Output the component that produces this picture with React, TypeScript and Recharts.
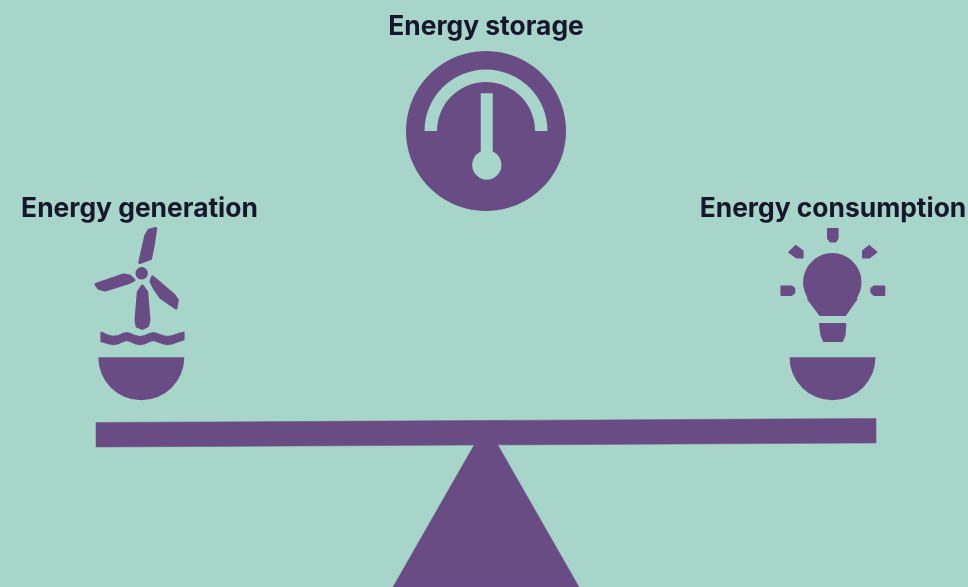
import { Pie, PieChart, Scatter, ScatterChart, XAxis, YAxis } from "recharts";

const WIDTH = 968;
const HEIGHT = 587;
const BACKGROUND = "#a7d5ca";
const PURPLE = "#6a4c85";
const INK = "#17172b";

// Outlines are [x, y] in a 968 x 587 data space.
const beam = [[96, 422.5], [876, 418.5], [876, 443], [96, 447]];
const fulcrum = [[393, 587], [477, 440], [495, 440], [579, 587]];
const needle = [[481, 93.5], [492.5, 93.5], [492.5, 160], [481, 160]];

const bladeTop = [[139.7, 262.5], [145.8, 235.5], [149, 230.3], [155.7, 228.5], [153, 246.5], [150.5, 258.5]];
const bladeLeft = [[96, 284.5], [123.5, 275], [129.7, 276], [134, 280], [129.7, 282.3], [105, 290], [98.8, 288.4]];
const bladeRight = [[152.5, 277], [174.2, 295.5], [177.3, 300], [176, 308], [160.7, 297.5], [155, 289.5], [151, 281.5]];
const tower = [[142.3, 286], [138.3, 292], [136, 320], [137, 326], [142.3, 328.3], [147.5, 326], [149, 320], [146.7, 292]];
const wave = [
	[100.7, 331.7], [104, 333], [108.3, 335], [113.3, 336], [118.3, 335.3], [122.7, 333.3], [126.7, 332.3],
	[130.7, 333.3], [135, 335.3], [140, 336.3], [145, 335.3], [149.3, 333.3], [153.3, 332.3], [157.3, 333.3],
	[162.7, 335.3], [167.3, 336.3], [172.7, 335.3], [178.3, 333.3], [184.3, 331.7],
	[184.3, 340], [178.3, 342], [172.7, 344], [167.3, 345], [162.7, 344], [157.3, 342], [153.3, 340.7],
	[149.3, 342], [145, 344], [140, 345], [135, 344], [130.7, 342], [126.7, 340.7], [122.7, 342],
	[118.3, 344], [113.3, 345], [108.3, 344], [104, 342.7], [100.7, 341.7],
];

const bulbNeck = [[808, 299], [820, 315], [845.3, 315], [856.5, 299]];
const bulbBase = [[820, 324], [845.3, 324], [844.6, 335], [842, 341], [824, 341], [821.4, 335]];
const rayTop = [[828, 229], [837.6, 229], [837.6, 238.3], [835.4, 241.6], [830.6, 241.6], [828, 238.3]];
const rayLeft = [[781.4, 286.4], [791.4, 286.4], [794.3, 288.6], [794.3, 292.4], [791.4, 295], [781.4, 295]];
const rayRight = [[884.3, 286.4], [874.3, 286.4], [871.4, 288.6], [871.4, 292.4], [874.3, 295], [884.3, 295]];
const rayUpperLeft = [[795.8, 246], [802.6, 251], [802.6, 257.6], [797, 257.6], [789.3, 252.2]];
const rayUpperRight = [[869.2, 246], [876.3, 252.2], [869, 257.6], [863, 257.6], [863, 251]];

const plainOutlines = [beam, fulcrum, wave];
const turbineOutlines = [bladeTop, bladeLeft, bladeRight, tower];
const bulbOutlines = [bulbNeck, bulbBase, rayTop, rayLeft, rayRight, rayUpperLeft, rayUpperRight];

const labelNames = ["Energy storage", "Energy generation", "Energy consumption"];
const labelX = [486, 139.5, 833];
const labelY = [35, 217, 217];
const labels = labelNames.map((name, i) => ({ name, x: labelX[i], y: labelY[i] }));

const whole = [{ value: 1 }];

const toPoints = (outline: number[][]) => outline.map(([x, y]) => ({ x, y }));

function LabelText({ cx, cy, payload }: any) {
	return (
		<text x={cx} y={cy} textAnchor="middle" fill={INK} fontFamily="Inter" fontWeight={700} fontSize={26.4}>
			{payload.name}
		</text>
	);
}

const NoMark = () => null;

// The reference is a slightly soft upscaled image
const layer = { position: "absolute", left: 0, top: 0, filter: "blur(0.5px)" } as const;

export default function App() {
	return (
		<div style={{ position: "absolute", left: 0, top: 0, width: WIDTH, height: HEIGHT, background: BACKGROUND, overflow: "hidden" }}>
			<div style={layer}>
				<PieChart width={WIDTH} height={HEIGHT} margin={{ top: 0, right: 0, bottom: 0, left: 0 }}>
					{/* gauge */}
					<Pie data={whole} dataKey="value" cx={486} cy={131} outerRadius={80} startAngle={0} endAngle={360} fill={PURPLE} stroke="none" isAnimationActive={false} />
					<Pie data={whole} dataKey="value" cx={486} cy={131} innerRadius={49} outerRadius={61.5} startAngle={180} endAngle={0} fill={BACKGROUND} stroke="none" isAnimationActive={false} />
					<Pie data={whole} dataKey="value" cx={486.8} cy={165} outerRadius={14.7} startAngle={0} endAngle={360} fill={BACKGROUND} stroke="none" isAnimationActive={false} />
					{/* turbine hub, bowls, bulb head */}
					<Pie data={whole} dataKey="value" cx={141.7} cy={273.3} outerRadius={6.2} startAngle={0} endAngle={360} fill={PURPLE} stroke="none" isAnimationActive={false} />
					<Pie data={whole} dataKey="value" cx={141.3} cy={357.3} outerRadius={43} startAngle={180} endAngle={360} fill={PURPLE} stroke="none" isAnimationActive={false} />
					<Pie data={whole} dataKey="value" cx={832.5} cy={357.3} outerRadius={43} startAngle={180} endAngle={360} fill={PURPLE} stroke="none" isAnimationActive={false} />
					<Pie data={whole} dataKey="value" cx={832.3} cy={282.3} outerRadius={29.2} startAngle={0} endAngle={360} fill={PURPLE} stroke="none" isAnimationActive={false} />
				</PieChart>
			</div>
			<div style={layer}>
				<ScatterChart width={WIDTH} height={HEIGHT} margin={{ top: 0, right: 0, bottom: 0, left: 0 }}>
					<XAxis type="number" dataKey="x" domain={[0, WIDTH]} hide />
					<YAxis type="number" dataKey="y" domain={[0, HEIGHT]} reversed hide />
					{plainOutlines.map((outline, i) => (
						<Scatter
							key={i}
							data={toPoints(outline)}
							shape={NoMark}
							line={{ fill: PURPLE, stroke: PURPLE, strokeWidth: 0.5 }}
							lineJointType="linearClosed"
							isAnimationActive={false}
						/>
					))}
					{turbineOutlines.map((outline, i) => (
						<Scatter
							key={i}
							data={toPoints(outline)}
							shape={NoMark}
							line={{ fill: PURPLE, stroke: PURPLE, strokeWidth: 3, strokeLinejoin: "round" }}
							lineJointType="linearClosed"
							isAnimationActive={false}
						/>
					))}
					{bulbOutlines.map((outline, i) => (
						<Scatter
							key={i}
							data={toPoints(outline)}
							shape={NoMark}
							line={{ fill: PURPLE, stroke: PURPLE, strokeWidth: 2, strokeLinejoin: "round" }}
							lineJointType="linearClosed"
							isAnimationActive={false}
						/>
					))}
					<Scatter
						data={toPoints(needle)}
						shape={NoMark}
						line={{ fill: BACKGROUND, stroke: BACKGROUND, strokeWidth: 0.5 }}
						lineJointType="linearClosed"
						isAnimationActive={false}
					/>
					<Scatter data={labels} shape={LabelText} isAnimationActive={false} />
				</ScatterChart>
			</div>
		</div>
	);
}
